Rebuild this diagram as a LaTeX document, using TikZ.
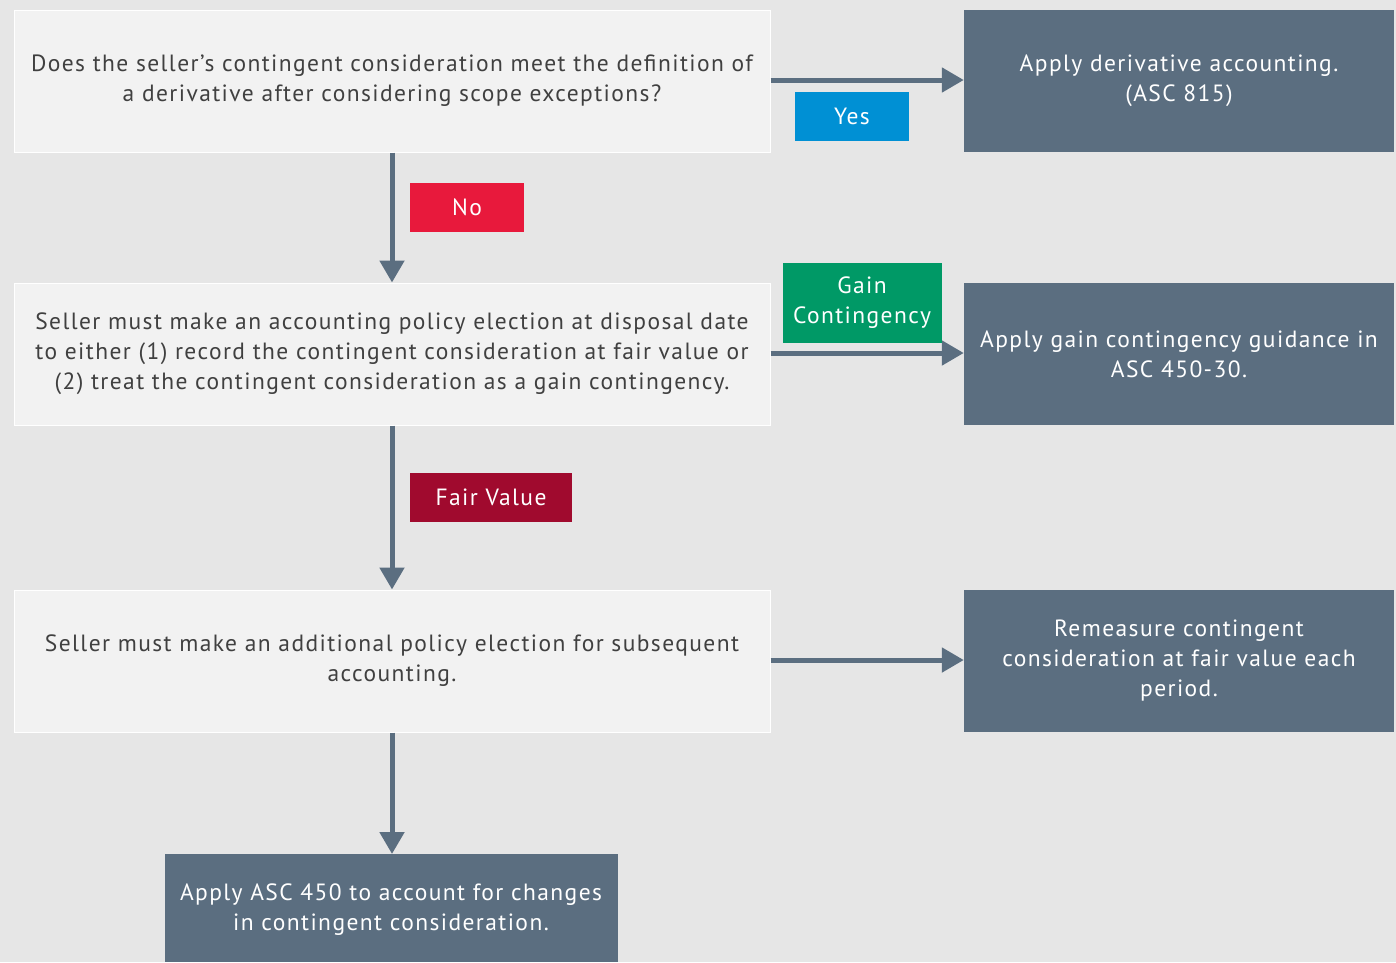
\documentclass[tikz,border=0pt]{standalone}
\usepackage{fontspec}
\setmainfont{PT Sans}[LetterSpace=6]
\usepackage{tikz}
\usetikzlibrary{arrows.meta,positioning}
\usepackage{xcolor}

\definecolor{bgcol}{HTML}{E6E6E6}
\definecolor{qcol}{HTML}{F2F2F2}
\definecolor{slate}{HTML}{5B6E80}
\definecolor{txtcol}{HTML}{404040}
\definecolor{yescol}{HTML}{0090D4}
\definecolor{nocol}{HTML}{E8193C}
\definecolor{gaincol}{HTML}{009966}
\definecolor{fvcol}{HTML}{A00A2E}

\tikzset{
  question/.style={draw=white, line width=1pt, fill=qcol, text=txtcol,
    minimum width=756pt, minimum height=142pt, align=center, inner sep=0pt,
    font=\fontsize{23.5}{30}\selectfont},
  outcome/.style={fill=slate, text=white, minimum width=430pt,
    minimum height=142pt, align=center, inner sep=0pt,
    font=\fontsize{23.5}{30}\selectfont},
  tag/.style={text=white, minimum height=49pt, align=center, inner sep=0pt,
    font=\fontsize{23.5}{30}\selectfont},
  flow/.style={draw=slate, line width=5pt,
    -{Triangle[length=22pt,width=24pt]}}
}

\begin{document}
\begin{tikzpicture}[x=1pt, y=-1pt]
% --- sfondo ---
\fill[bgcol] (0,0) rectangle (1396,962);
\useasboundingbox (0,0) rectangle (1396,962);

% --- domande ---
\node[question] (q1) at (392,81) {Does the seller’s contingent consideration meet the definition of\\a derivative after considering scope exceptions?};
\node[question] (q2) at (392,354) {Seller must make an accounting policy election at disposal date\\to either (1) record the contingent consideration at fair value or\\(2) treat the contingent consideration as a gain contingency.};
\node[question] (q3) at (392,661) {Seller must make an additional policy election for subsequent\\accounting.};

% --- esiti ---
\node[outcome] (a1) at (1179,81) {Apply derivative accounting.\\(ASC 815)};
\node[outcome] (a2) at (1179,354) {Apply gain contingency guidance in\\ASC 450-30.};
\node[outcome] (a3) at (1179,661) {Remeasure contingent\\consideration at fair value each\\period.};
\fill[slate] (165,854) rectangle (618,962);
\node[text=white, align=center, font=\fontsize{23.5}{30}\selectfont] (a4) at (391,910) {Apply ASC 450 to account for changes\\in contingent consideration.};
\coordinate (a4top) at (392,854);

% --- frecce ---
\draw[flow] (q1.east |- 0,80) -- (a1.west |- 0,80);
\draw[flow] (q2.east |- 0,353) -- (a2.west |- 0,353);
\draw[flow] (q3.east |- 0,660) -- (a3.west |- 0,660);
\draw[flow] (q1.south) -- (q2.north);
\draw[flow] (q2.south) -- (q3.north);
\draw[flow] (q3.south) -- (a4top);

% --- etichette ---
\node[tag, fill=yescol, minimum width=114pt] (yes) at (852,116) {Yes};
\node[tag, fill=nocol, minimum width=114pt] (no) at (467,207) {No};
\node[tag, fill=gaincol, minimum width=159pt, minimum height=80pt] (gain) at (862,303) {Gain\\Contingency};
\node[tag, fill=fvcol, minimum width=162pt] (fv) at (491,497) {Fair Value};
\end{tikzpicture}
\end{document}
